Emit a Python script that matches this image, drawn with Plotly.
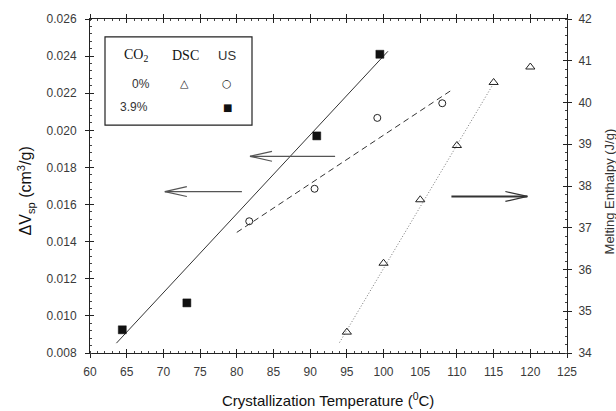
import plotly.graph_objects as go

# ---------------- data ----------------
dsc_T = [95, 100, 105, 110, 115, 120]
dsc_H = [34.5, 36.15, 37.67, 38.97, 40.48, 40.85]

us0_T = [81.7, 90.6, 99.15, 108.0]
us0_V = [0.0151, 0.01685, 0.02067, 0.02146]

us39_T = [64.4, 73.2, 90.9, 99.5]
us39_V = [0.00925, 0.0107, 0.0197, 0.0241]

fit39_T = [63.6, 100.6]
fit39_V = [0.00853, 0.02426]
fit0_T = [80.0, 109.4]
fit0_V = [0.0145, 0.0222]
fitdsc_T = [94.0, 114.8]
fitdsc_H = [34.25, 40.4]

# arrows: tail x, tip x, y level, axis
arrow_tail = [93.4, 80.7, 109.25]
arrow_tip = [81.8, 70.2, 119.6]
arrow_y = [0.0186, 0.0167, 37.75]
arrow_axis = ["y", "y", "y2"]

x_ticks = list(range(60, 126, 5))

# ---------------- layout geometry ----------------
W, H = 616, 411
L, R, T, B = 90, 49, 16, 58
PW, PH = W - L - R, H - T - B


def px(x):
    return (x - L) / PW


def py(y):
    return (H - B - y) / PH


fig = go.Figure()

# fitted lines
fig.add_trace(go.Scatter(x=fit39_T, y=fit39_V, mode="lines",
                         line=dict(color="#333", width=1), showlegend=False))
fig.add_trace(go.Scatter(x=fit0_T, y=fit0_V, mode="lines",
                         line=dict(color="#333", width=1, dash="6px,4px"), showlegend=False))
fig.add_trace(go.Scatter(x=fitdsc_T, y=fitdsc_H, mode="lines", yaxis="y2",
                         line=dict(color="#777", width=1, dash="1px,2px"), showlegend=False))

# markers
fig.add_trace(go.Scatter(x=us39_T, y=us39_V, mode="markers",
                         marker=dict(symbol="square", size=8, color="#111",
                                     line=dict(color="#111", width=0.5)), showlegend=False))
fig.add_trace(go.Scatter(x=us0_T, y=us0_V, mode="markers",
                         marker=dict(symbol="circle-open", size=7, color="#222",
                                     line=dict(width=1)), showlegend=False))
fig.add_trace(go.Scatter(x=dsc_T, y=dsc_H, mode="markers", yaxis="y2",
                         marker=dict(symbol="triangle-up-open", size=8, color="#222",
                                     line=dict(width=1)), showlegend=False))

# arrows (shaft + open V head)
shapes = []
for xt, xp, yv, ax in zip(arrow_tail, arrow_tip, arrow_y, arrow_axis):
    d = 1 if xp > xt else -1
    hx = xp - d * 22 / PW * 65
    if ax == "y":
        hy = 5 / PH * 0.018
        col, wd = "#555", 1.2
    else:
        hy = 5 / PH * 8
        col, wd = "#333", 2
    shapes.append(dict(type="line", xref="x", yref=ax, x0=xt, x1=xp, y0=yv, y1=yv,
                       line=dict(color=col, width=wd)))
    for s in (1, -1):
        shapes.append(dict(type="line", xref="x", yref=ax, x0=hx, x1=xp,
                           y0=yv + s * hy, y1=yv, line=dict(color=col, width=1.2)))

# legend box
shapes.append(dict(type="rect", xref="paper", yref="paper",
                   x0=px(105), x1=px(252), y0=py(123), y1=py(34),
                   line=dict(color="#222", width=1.2), fillcolor="white", layer="below"))

ann = []
def add_text(text, x, y, size, family="Arial, Liberation Sans", color="#222", angle=0):
    ann.append(dict(text=text, x=px(x), y=py(y), xref="paper", yref="paper",
                    showarrow=False, xanchor="center", yanchor="middle",
                    font=dict(size=size, family=family, color=color), textangle=angle))

serif = "Times New Roman, Liberation Serif, serif"
add_text("CO<sub>2</sub>", 136, 53, 14, serif, "#111")
add_text("DSC", 185, 53, 14, serif, "#111")
add_text("US", 227, 53, 13, color="#333")
add_text("0%", 141, 81.5, 12, color="#333")
add_text("△", 184.5, 81, 11, "DejaVu Sans", "#222")
add_text("○", 227, 81, 11, "DejaVu Sans", "#222")
add_text("3.9%", 134, 105, 12, color="#333")
add_text("■", 227.5, 105, 10, "DejaVu Sans", "#111")

# axis titles
add_text("ΔV<sub>sp</sub> (cm<sup>3</sup>/g)", 26, 190, 16, color="#111", angle=-90)
add_text("Melting Enthalpy (J/g)", 609, 190, 13, color="#333", angle=-90)
add_text("Crystallization Temperature (<sup>0</sup>C)", 328, 400, 15, color="#111")

tickfont = dict(family="Arial, Liberation Sans", size=12, color="#3a3a3a")
common = dict(showgrid=False, zeroline=False, tickcolor="#222", tickwidth=1)

fig.update_layout(
    width=W, height=H, margin=dict(l=L, r=R, t=T, b=B),
    paper_bgcolor="white", plot_bgcolor="white",
    shapes=shapes, annotations=ann, showlegend=False,
    xaxis=dict(range=[60, 125], tickvals=x_ticks, ticks="outside", ticklen=4,
               showline=True, linecolor="#222", linewidth=1, mirror="ticks",
               tickfont=tickfont, ticklabelstandoff=4,
               minor=dict(ticks="inside", ticklen=2, dtick=1, tickcolor="#444"),
               **common),
    xaxis3=dict(range=[60, 125], overlaying="x", anchor="y", side="bottom",
                tickvals=x_ticks, ticks="inside", ticklen=4, showticklabels=False,
                mirror="ticks", showline=False, **common),
    yaxis=dict(range=[0.008, 0.026], dtick=0.002, tickformat=".3f", ticks="outside",
               ticklen=4, showline=True, linecolor="#222", linewidth=1,
               tickfont=tickfont, ticklabelstandoff=6,
               minor=dict(ticks="inside", ticklen=2, dtick=0.0004, tickcolor="#444"),
               **common),
    yaxis3=dict(range=[0.008, 0.026], dtick=0.002, overlaying="y", anchor="x",
                side="left", ticks="inside", ticklen=4, showticklabels=False,
                showline=False, **common),
    yaxis2=dict(range=[34, 42], dtick=1, overlaying="y", anchor="x", side="right",
                ticks="outside", ticklen=4, showline=True, linecolor="#222", linewidth=1,
                tickfont=tickfont, ticklabelstandoff=4,
                minor=dict(ticks="inside", ticklen=2, dtick=0.2, tickcolor="#444"),
                **common),
    yaxis4=dict(range=[34, 42], dtick=1, overlaying="y", anchor="x", side="right",
                ticks="inside", ticklen=4, showticklabels=False, showline=False,
                **common),
)
# dummy invisible traces so overlay axes are drawn
fig.add_trace(go.Scatter(x=[None], y=[None], xaxis="x3", yaxis="y3", showlegend=False))
fig.add_trace(go.Scatter(x=[None], y=[None], xaxis="x", yaxis="y4", showlegend=False))

fig.write_html("out.html")
